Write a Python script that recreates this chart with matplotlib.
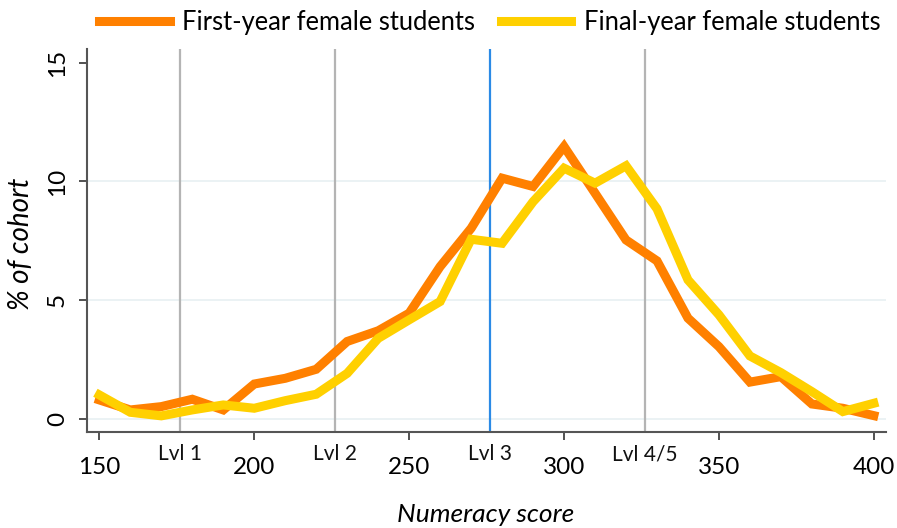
import numpy as np
import matplotlib.pyplot as plt
from matplotlib import font_manager
from matplotlib.transforms import blended_transform_factory

# numeracy score bins (10-point steps)
scores = [150, 160, 170, 180, 190, 200, 210, 220, 230, 240, 250, 260, 270,
          280, 290, 300, 310, 320, 330, 340, 350, 360, 370, 380, 390, 400]

# % of cohort in each bin
first_year = [0.81, 0.39, 0.53, 0.84, 0.39, 1.48, 1.72, 2.10, 3.27, 3.72, 4.46,
              6.42, 8.03, 10.14, 9.79, 11.47, 9.51, 7.54, 6.66, 4.25, 3.05,
              1.56, 1.79, 0.64, 0.46, 0.15]
final_year = [1.02, 0.29, 0.14, 0.39, 0.60, 0.46, 0.78, 1.05, 1.93, 3.40, 4.18,
              4.95, 7.57, 7.40, 9.15, 10.56, 9.93, 10.66, 8.85, 5.86, 4.39,
              2.66, 1.96, 1.16, 0.32, 0.67]

# proficiency level cut-offs
level_cuts = [176, 226, 276, 326]
level_labels = ['Lvl 1', 'Lvl 2', 'Lvl 3', 'Lvl 4/5']
level_colors = ['#b4b4b4', '#b4b4b4', '#2b8ae6', '#b4b4b4']

xticks = [150, 200, 250, 300, 350, 400]
yticks = [0, 5, 10, 15]

installed = {f.name for f in font_manager.fontManager.ttflist}
fam = [f for f in ['Lato', 'DejaVu Sans'] if f in installed]
plt.rcParams['font.family'] = fam

fig = plt.figure(figsize=(8.97, 5.28), dpi=100)
ax = fig.add_axes([0.0973, 0.1813, 0.8907, 0.7253])

for y in [0, 5, 10]:
    ax.axhline(y, color='#e8f0f2', lw=1.2, zorder=0)
for x, c in zip(level_cuts, level_colors):
    ax.axvline(x, color=c, lw=1.6, zorder=1)

ax.plot(scores, first_year, color='#ff8000', lw=6.5, solid_joinstyle='miter',
        label='First-year female students', zorder=3)
ax.plot(scores, final_year, color='#ffd000', lw=6.5, solid_joinstyle='miter',
        label='Final-year female students', zorder=4)

ax.set_xlim(146.1, 404)
ax.set_ylim(-0.55, 15.56)

ax.set_xticks(xticks)
ax.set_xticklabels([str(t) for t in xticks], fontsize=17.5)
ax.set_yticks(yticks)
ax.set_yticklabels([str(t) for t in yticks], fontsize=17.5, rotation=90, va='center')
ax.tick_params(axis='both', length=6, width=1.2, color='#333333')
ax.tick_params(axis='x', pad=12)
ax.tick_params(axis='y', pad=8)

# level names sit just under the axis, between the score ticks
trans = blended_transform_factory(ax.transData, ax.transAxes)
for x, lab in zip(level_cuts, level_labels):
    ax.text(x, -0.057, lab, transform=trans, ha='center', va='center',
            fontsize=15, color='#111111')

for s in ['top', 'right']:
    ax.spines[s].set_visible(False)
for s in ['left', 'bottom']:
    ax.spines[s].set_color('#555555')
    ax.spines[s].set_linewidth(1.5)

fig.text(486 / 897, 1 - 515 / 528, 'Numeracy score', fontsize=19, style='italic',
         ha='center', va='center')
fig.text(21 / 897, 1 - 244 / 528, '% of cohort', fontsize=20, style='italic',
         ha='center', va='center', rotation=90)

leg = ax.legend(loc='lower center', bbox_to_anchor=(0.504, 1.0), ncol=2,
                frameon=False, fontsize=18.4, handlelength=2.75, handletextpad=0.5,
                columnspacing=1.0, borderaxespad=0.15)
for h in leg.get_lines():
    h.set_linewidth(6.5)

fig.savefig('out.png', dpi=100)
